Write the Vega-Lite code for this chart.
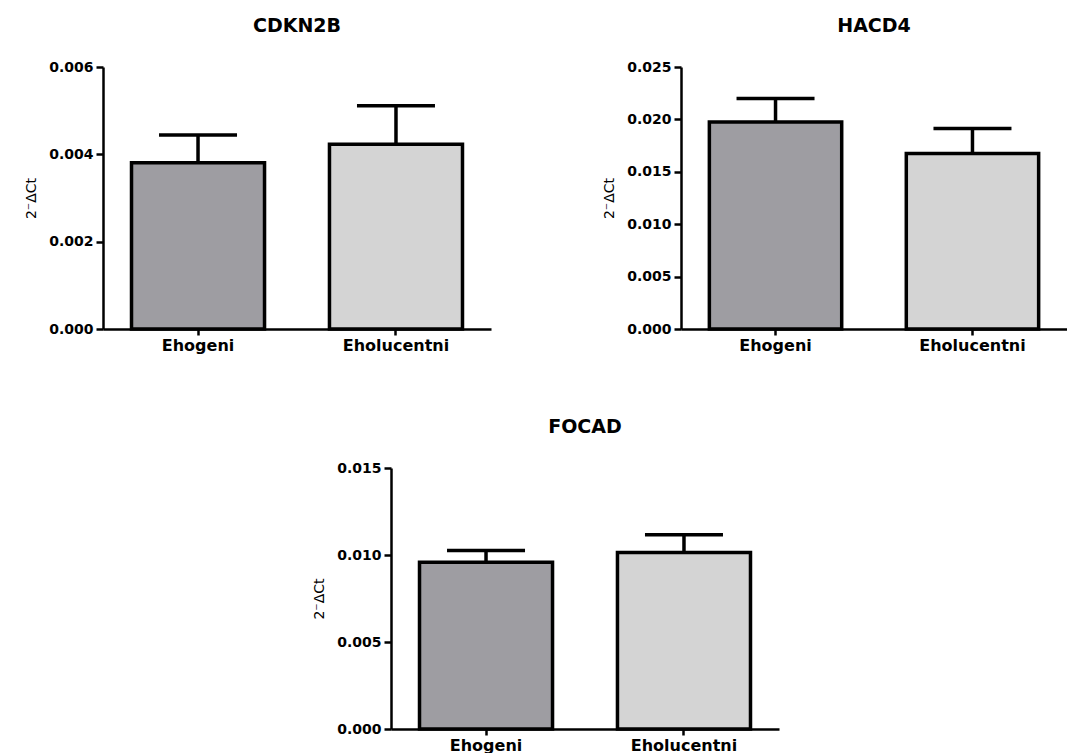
{
  "$schema": "https://vega.github.io/schema/vega-lite/v6.json",
  "background": "white",
  "padding": {"left": 24, "top": 17, "right": 0, "bottom": 0},
  "datasets": {
    "expr": [
      {"gene": "CDKN2B", "group": "Ehogeni", "mean": 0.00381, "upper": 0.00444},
      {"gene": "CDKN2B", "group": "Eholucentni", "mean": 0.00423, "upper": 0.00511},
      {"gene": "HACD4", "group": "Ehogeni", "mean": 0.01976, "upper": 0.02199},
      {"gene": "HACD4", "group": "Eholucentni", "mean": 0.01675, "upper": 0.01913},
      {"gene": "FOCAD", "group": "Ehogeni", "mean": 0.00959, "upper": 0.01026},
      {"gene": "FOCAD", "group": "Eholucentni", "mean": 0.01015, "upper": 0.01116}
    ]
  },
  "config": {
    "font": "DejaVu Sans",
    "view": {"stroke": null},
    "concat": {"spacing": 111},
    "axis": {
      "grid": false,
      "domainColor": "black",
      "domainWidth": 2.5,
      "tickColor": "black",
      "tickWidth": 2.5,
      "labelColor": "black",
      "labelFont": "DejaVu Sans",
      "labelFontWeight": "bold",
      "titleColor": "black",
      "titleFont": "DejaVu Sans",
      "titleFontWeight": "normal"
    },
    "axisX": {"labelFontSize": 16, "tickSize": 6, "labelPadding": 2, "labelAngle": 0, "title": null},
    "axisY": {"labelFontSize": 14, "tickSize": 7, "labelPadding": 3, "titleFontSize": 14, "titlePadding": 10},
    "title": {"fontSize": 19, "fontWeight": "bold", "color": "black", "font": "DejaVu Sans", "offset": 24}
  },
  "vconcat": [
    {
      "hconcat": [
        {
          "title": "CDKN2B",
          "width": 388,
          "height": 262,
          "data": {"name": "expr"},
          "transform": [{"filter": "datum.gene === 'CDKN2B'"}],
          "encoding": {
            "x": {"field": "group", "type": "nominal", "sort": ["Ehogeni", "Eholucentni"], "scale": {"paddingInner": 0.328, "paddingOuter": 0.144}}
          },
          "layer": [
            {
              "mark": {"type": "bar", "stroke": "black", "strokeWidth": 3.5, "opacity": 1},
              "encoding": {
                "y": {"field": "mean", "type": "quantitative", "scale": {"domain": [0, 0.006], "nice": false}, "axis": {"values": [0, 0.002, 0.004, 0.006], "format": ".3f", "title": "2⁻ΔCt"}},
                "color": {"field": "group", "type": "nominal", "scale": {"domain": ["Ehogeni", "Eholucentni"], "range": ["#9e9da2", "#d4d4d4"]}, "legend": null}
              }
            },
            {
              "mark": {"type": "rule", "color": "black", "strokeWidth": 3.5, "opacity": 1},
              "encoding": {
                "y": {"field": "mean", "type": "quantitative", "scale": {"domain": [0, 0.006], "nice": false}, "axis": {"values": [0, 0.002, 0.004, 0.006], "format": ".3f", "title": "2⁻ΔCt"}},
                "y2": {"field": "upper"}
              }
            },
            {
              "mark": {"type": "tick", "color": "black", "thickness": 3.5, "size": 78, "opacity": 1},
              "encoding": {
                "y": {"field": "upper", "type": "quantitative", "scale": {"domain": [0, 0.006], "nice": false}, "axis": {"values": [0, 0.002, 0.004, 0.006], "format": ".3f", "title": "2⁻ΔCt"}}
              }
            }
          ]
        },
        {
          "title": "HACD4",
          "width": 386,
          "height": 262,
          "data": {"name": "expr"},
          "transform": [{"filter": "datum.gene === 'HACD4'"}],
          "encoding": {
            "x": {"field": "group", "type": "nominal", "sort": ["Ehogeni", "Eholucentni"], "scale": {"paddingInner": 0.328, "paddingOuter": 0.144}}
          },
          "layer": [
            {
              "mark": {"type": "bar", "stroke": "black", "strokeWidth": 3.5, "opacity": 1},
              "encoding": {
                "y": {"field": "mean", "type": "quantitative", "scale": {"domain": [0, 0.025], "nice": false}, "axis": {"values": [0, 0.005, 0.01, 0.015, 0.02, 0.025], "format": ".3f", "title": "2⁻ΔCt"}},
                "color": {"field": "group", "type": "nominal", "scale": {"domain": ["Ehogeni", "Eholucentni"], "range": ["#9e9da2", "#d4d4d4"]}, "legend": null}
              }
            },
            {
              "mark": {"type": "rule", "color": "black", "strokeWidth": 3.5, "opacity": 1},
              "encoding": {
                "y": {"field": "mean", "type": "quantitative", "scale": {"domain": [0, 0.025], "nice": false}, "axis": {"values": [0, 0.005, 0.01, 0.015, 0.02, 0.025], "format": ".3f", "title": "2⁻ΔCt"}},
                "y2": {"field": "upper"}
              }
            },
            {
              "mark": {"type": "tick", "color": "black", "thickness": 3.5, "size": 78, "opacity": 1},
              "encoding": {
                "y": {"field": "upper", "type": "quantitative", "scale": {"domain": [0, 0.025], "nice": false}, "axis": {"values": [0, 0.005, 0.01, 0.015, 0.02, 0.025], "format": ".3f", "title": "2⁻ΔCt"}}
              }
            }
          ]
        }
      ]
    },
    {
      "title": "FOCAD",
      "width": 388,
      "height": 261,
      "data": {"name": "expr"},
      "transform": [{"filter": "datum.gene === 'FOCAD'"}],
      "encoding": {
        "x": {"field": "group", "type": "nominal", "sort": ["Ehogeni", "Eholucentni"], "scale": {"paddingInner": 0.328, "paddingOuter": 0.144}}
      },
      "layer": [
        {
          "mark": {"type": "bar", "stroke": "black", "strokeWidth": 3.5, "opacity": 1},
          "encoding": {
            "y": {"field": "mean", "type": "quantitative", "scale": {"domain": [0, 0.015], "nice": false}, "axis": {"values": [0, 0.005, 0.01, 0.015], "format": ".3f", "title": "2⁻ΔCt"}},
            "color": {"field": "group", "type": "nominal", "scale": {"domain": ["Ehogeni", "Eholucentni"], "range": ["#9e9da2", "#d4d4d4"]}, "legend": null}
          }
        },
        {
          "mark": {"type": "rule", "color": "black", "strokeWidth": 3.5, "opacity": 1},
          "encoding": {
            "y": {"field": "mean", "type": "quantitative", "scale": {"domain": [0, 0.015], "nice": false}, "axis": {"values": [0, 0.005, 0.01, 0.015], "format": ".3f", "title": "2⁻ΔCt"}},
            "y2": {"field": "upper"}
          }
        },
        {
          "mark": {"type": "tick", "color": "black", "thickness": 3.5, "size": 78, "opacity": 1},
          "encoding": {
            "y": {"field": "upper", "type": "quantitative", "scale": {"domain": [0, 0.015], "nice": false}, "axis": {"values": [0, 0.005, 0.01, 0.015], "format": ".3f", "title": "2⁻ΔCt"}}
          }
        }
      ]
    }
  ],
  "spacing": 65,
  "center": true
}
